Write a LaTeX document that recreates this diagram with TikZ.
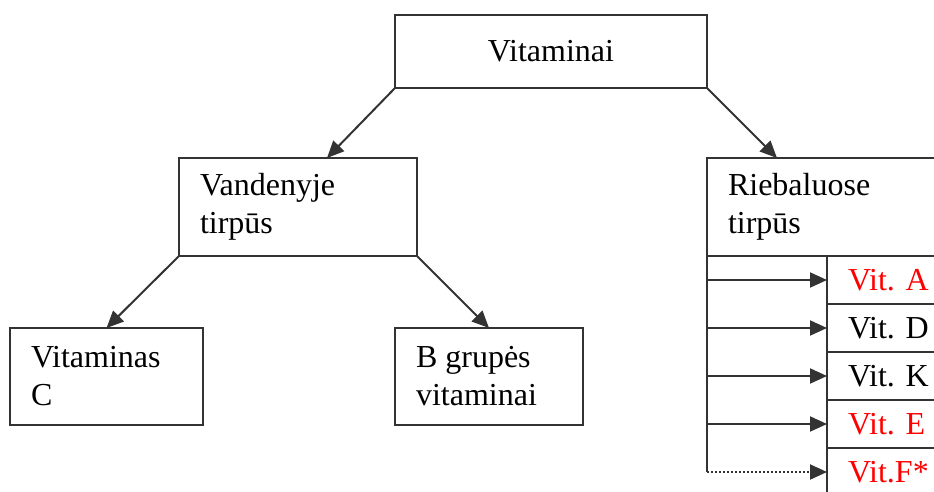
\documentclass[tikz,border=0pt]{standalone}
\usepackage{fontspec}
\setmainfont{Liberation Serif}
\usetikzlibrary{arrows.meta,positioning}

\begin{document}
\begin{tikzpicture}[x=1pt,y=-1pt,>={Triangle[length=17pt,width=15pt]},
  font=\fontsize{32}{38}\selectfont,
  box/.style={draw=black!80,line width=1.6pt,outer sep=0pt,inner xsep=21pt,align=flush left,anchor=north west},
  vitbox/.style={box,minimum height=48pt,text width=91pt},
  link/.style={draw=black!80,line width=2pt}]

\useasboundingbox (0,0) rectangle (934,492);
\clip (0,0) rectangle (934,492);

\node (vit) [box,align=center,text width=270pt,minimum height=73pt] at (395,15) {Vitaminai};

\node (vand) [box,text width=196pt,minimum height=98pt] at (179,158) {Vandenyje\\tirpūs};
\node (rieb) [box,text width=218pt,minimum height=98pt] at (707,158) {Riebaluose\\tirpūs};

\node (vitc) [box,text width=151pt,minimum height=97pt] at (10,328) {Vitaminas\\C};
\node (bgr) [box,text width=146pt,minimum height=97pt] at (395,328) {B grupės\\vitaminai};

\node (vita) [vitbox,text=red] at (827,256) {Vit. A};
\node (vitd) [vitbox,below=0pt of vita] {Vit. D};
\node (vitk) [vitbox,below=0pt of vitd] {Vit. K};
\node (vite) [vitbox,text=red,below=0pt of vitk] {Vit. E};
\node (vitf) [vitbox,text=red,below=0pt of vite] {Vit.F*};

\draw[link,->] (vit.south west) -- ([xshift=29pt]vand.north);
\draw[link,->] (vit.south east) -- ([xshift=-60pt]rieb.north);
\draw[link,->] (vand.south west) -- (vitc.north);
\draw[link,->] (vand.south east) -- (bgr.north);

% riebaluose tirpus
\draw[link] (rieb.south west) -- (rieb.south west |- vitf.west);
\foreach \v in {vita,vitd,vitk,vite}
  \draw[link,->] (rieb.south west |- \v.west) -- (\v.west);
\draw[link,->,dash pattern=on 2pt off 2pt] (rieb.south west |- vitf.west) -- (vitf.west);

\end{tikzpicture}
\end{document}
